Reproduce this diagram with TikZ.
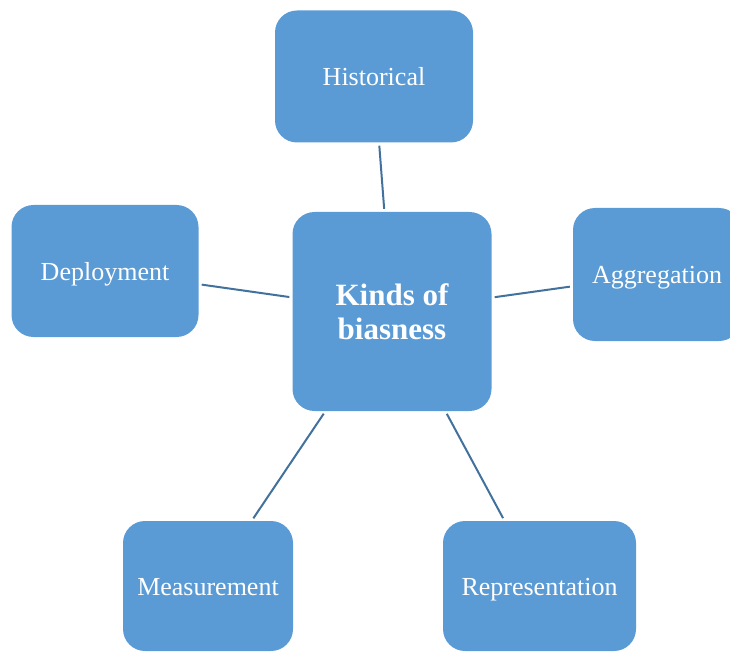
\documentclass[tikz,border=0pt]{standalone}
\usepackage{fontspec}
\setmainfont{Liberation Serif}
\definecolor{boxfill}{HTML}{5B9BD5}
\definecolor{linkline}{HTML}{41719C}
\begin{document}
\begin{tikzpicture}[x=1pt,y=-1pt,
  kindbase/.style={fill=boxfill,draw=none,rounded corners=22pt,text=white,
    inner sep=0pt,align=center},
  kind/.style={kindbase,font=\fontsize{26}{30}\selectfont,
    text height=18pt,text depth=0pt},
  link/.style={draw=linkline,line width=2pt,shorten <=3pt,shorten >=3pt}]
\useasboundingbox (0,0) rectangle (730,652);
% central topic
\node[kindbase,minimum width=199pt,minimum height=199pt,
  font=\bfseries\fontsize{31}{34}\selectfont] (cent) at (392,311.5) {Kinds of\\biasness};
% surrounding kinds
\node[kind,minimum width=198pt,minimum height=132pt] (hist) at (374,76.5) {Historical};
\node[kind,minimum width=187pt,minimum height=132pt] (dep) at (105,271) {Deployment};
\node[kind,minimum width=168pt,minimum height=133pt] (agg) at (657,274.5) {Aggregation};
\node[kind,minimum width=170pt,minimum height=130pt] (meas) at (208,586) {Measurement};
\node[kind,minimum width=193pt,minimum height=130pt] (rep) at (539.5,586) {Representation};
% connectors
\draw[link] (hist) -- (cent);
\draw[link] (dep) -- (cent);
\draw[link] (agg) -- (cent);
\draw[link] (meas) -- (cent);
\draw[link] (rep) -- (cent);
\end{tikzpicture}
\end{document}
